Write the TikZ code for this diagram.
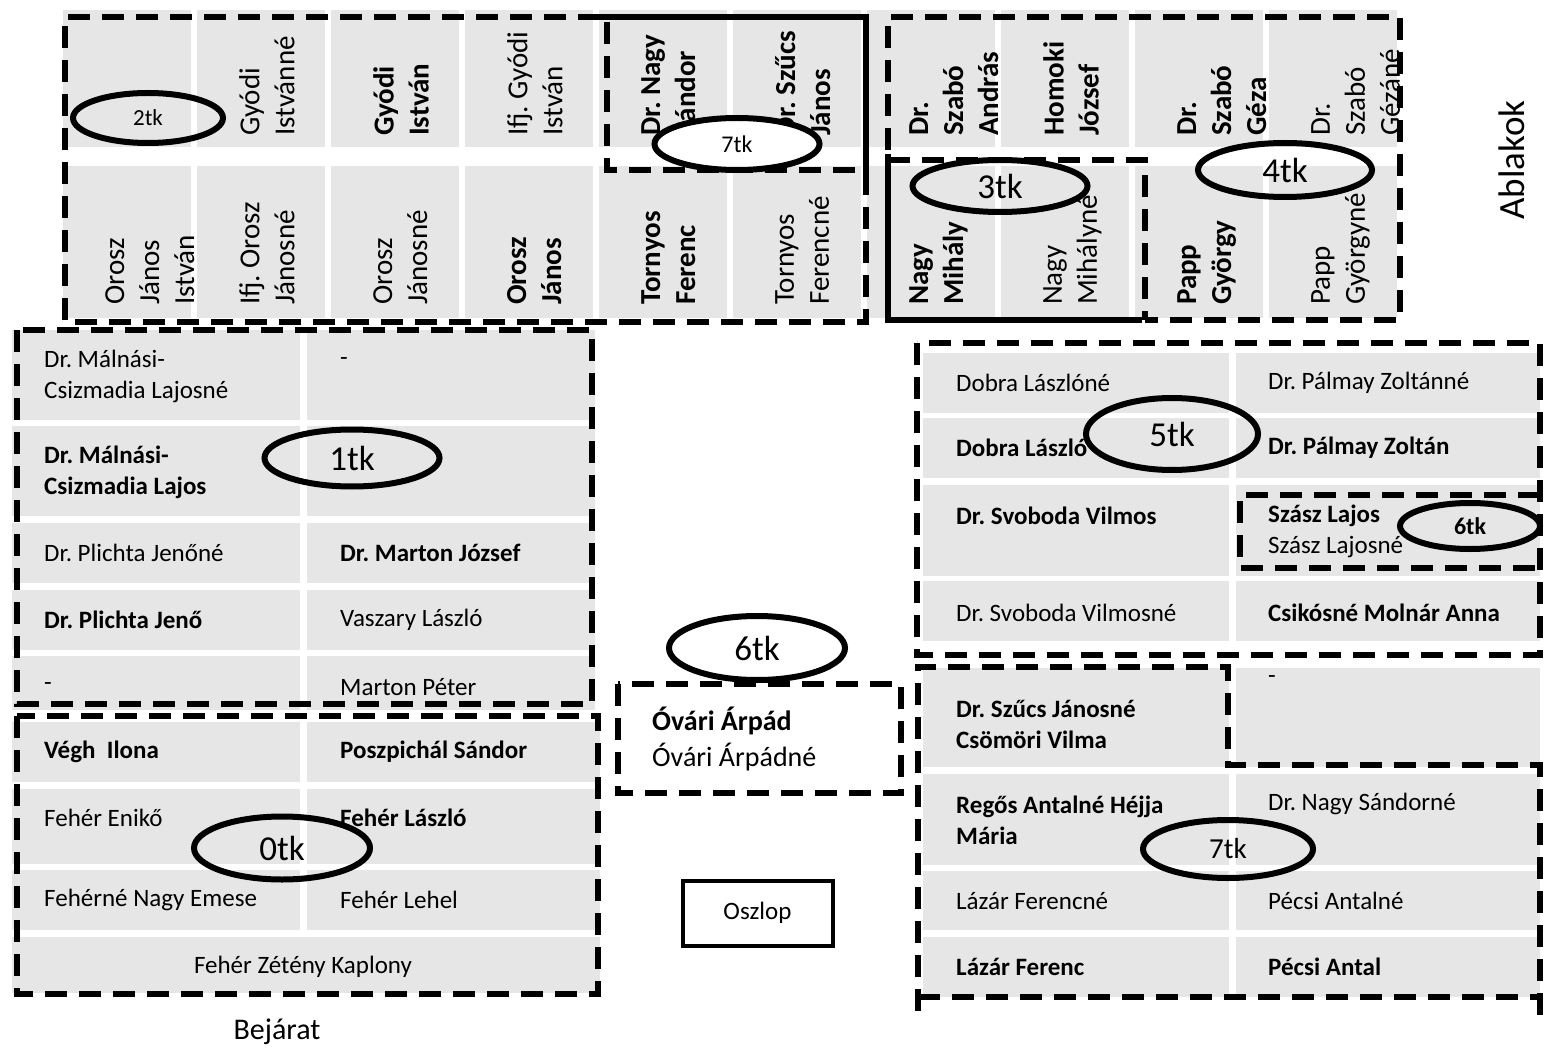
\documentclass[tikz,border=0pt]{standalone}
\usepackage{fontspec}
\setmainfont{Carlito}
\usetikzlibrary{shapes.geometric}
\definecolor{cellgray}{RGB}{230,230,230}
\frenchspacing
\begin{document}
\begin{tikzpicture}[x=1pt,y=-1pt,
  cellfill/.style={fill=cellgray},
  dsh/.style={line width=5.5pt, dash pattern=on 22pt off 12pt},
  sol/.style={line width=5.5pt},
  htxt/.style={anchor=west, inner sep=0pt, align=left, font=\fontsize{25}{31}\selectfont},
  hbold/.style={htxt, font=\fontsize{25}{31}\selectfont\bfseries},
  vtxt/.style={rotate=90, anchor=north west, inner sep=0pt, align=left, font=\fontsize{29}{35}\selectfont},
  vbold/.style={vtxt, font=\fontsize{29}{35}\selectfont\bfseries},
  oval/.style={ellipse, draw, line width=6pt, inner sep=0pt},
  bigl/.style={font=\fontsize{35}{40}\selectfont},
]
\useasboundingbox (0,0) rectangle (1544,1048);

% ---------- top section cells ----------
\foreach \i in {0,...,9} {
  \fill[cellfill] ({63+134*\i},10) rectangle ({191+134*\i},147);
  \fill[cellfill] ({63+134*\i},166) rectangle ({191+134*\i},318);
}
% top row texts
\node[vtxt]  (t1) at (239,136) {Gyódi\\Istvánné};
\node[vbold] (t2) at (373,136) {Gyódi\\István};
\node[vtxt]  (t3) at (507,136) {Ifj. Gyódi\\István};
\node[vbold] (t4) at (641,136) {Dr. Nagy\\Sándor};
\node[vbold] (t5) at (775,136) {Dr. Szűcs\\János};
\node[vbold] (t6) at (909,136) {Dr.\\Szabó\\András};
\node[vbold] (t7) at (1043,136) {Homoki\\József};
\node[vbold] (t8) at (1177,136) {Dr.\\Szabó\\Géza};
\node[vtxt]  (t9) at (1311,136) {Dr.\\Szabó\\Gézáné};
% bottom row texts
\node[vtxt]  (b0) at (105,305) {Orosz\\János\\István};
\node[vtxt]  (b1) at (239,305) {Ifj. Orosz\\Jánosné};
\node[vtxt]  (b2) at (373,305) {Orosz\\Jánosné};
\node[vbold] (b3) at (507,305) {Orosz\\János};
\node[vbold] (b4) at (641,305) {Tornyos\\Ferenc};
\node[vtxt]  (b5) at (775,305) {Tornyos\\Ferencné};
\node[vbold] (b6) at (909,305) {Nagy\\Mihály};
\node[vtxt]  (b7) at (1043,305) {Nagy\\Mihályné};
\node[vbold] (b8) at (1177,305) {Papp\\György};
\node[vtxt]  (b9) at (1311,305) {Papp\\Györgyné};

% top-left block borders
\draw[dsh] (600,17) -- (65,17) -- (65,322) -- (866,322) -- (866,182);
\draw[sol] (598,17) -- (866,17) -- (866,182);
\draw[dsh] (607,22) -- (607,170) -- (860,170);
% top-right block borders
\draw[dsh] (888,150) -- (888,17) -- (1400,17) -- (1400,320) -- (1145,320);
\draw[sol] (888,154) -- (888,320) -- (1142,320);
\draw[dsh] (888,160) -- (1145,160) -- (1145,320);

% ---------- 1tk block ----------
\fill[cellfill] (12,330) rectangle (300,420);
\fill[cellfill] (307,330) rectangle (595,420);
\fill[cellfill] (12,426) rectangle (300,516);
\fill[cellfill] (307,426) rectangle (595,516);
\fill[cellfill] (12,523) rectangle (300,583);
\fill[cellfill] (307,523) rectangle (595,583);
\fill[cellfill] (12,590) rectangle (300,650);
\fill[cellfill] (307,590) rectangle (595,650);
\fill[cellfill] (12,656) rectangle (300,710);
\fill[cellfill] (307,656) rectangle (595,710);
\node[htxt]  (m1a) at (44,376) {Dr. Málnási-\\Csizmadia Lajosné};
\node[htxt]  (m1b) at (340,362) {-};
\node[hbold] (m2a) at (44,472) {Dr. Málnási-\\Csizmadia Lajos};
\node[htxt]  (m3a) at (44,553) {Dr. Plichta Jenőné};
\node[hbold] (m3b) at (340,553) {Dr. Marton József};
\node[hbold] (m4a) at (44,620) {Dr. Plichta Jenő};
\node[htxt]  (m4b) at (340,620) {Vaszary László};
\node[htxt]  (m5a) at (44,687) {-};
\node[htxt]  (m5b) at (340,687) {Marton Péter};
\draw[dsh] (17,330) rectangle (592,704);

% ---------- 0tk block ----------
\fill[cellfill] (12,722) rectangle (300,782);
\fill[cellfill] (307,722) rectangle (600,782);
\fill[cellfill] (12,789) rectangle (300,864);
\fill[cellfill] (307,789) rectangle (600,864);
\fill[cellfill] (12,870) rectangle (300,930);
\fill[cellfill] (307,870) rectangle (600,930);
\fill[cellfill] (12,937) rectangle (600,993);
\node[hbold] (z1a) at (44,752) {Végh\ \ Ilona};
\node[hbold] (z1b) at (340,752) {Poszpichál Sándor};
\node[htxt]  (z2a) at (44,818) {Fehér Enikő};
\node[hbold] (z2b) at (340,818) {Fehér László};
\node[htxt]  (z3a) at (44,900) {Fehérné Nagy Emese};
\node[htxt]  (z3b) at (340,900) {Fehér Lehel};
\node[htxt, anchor=center] (z4) at (303,967) {Fehér Zétény Kaplony};
\draw[dsh] (17,716) rectangle (598,994);
\node[font=\fontsize{30}{34}\selectfont, inner sep=0pt] (bej) at (277,1032) {Bejárat};

% ---------- middle ----------
\draw[dsh] (618,684) rectangle (901,793);
\node[anchor=west, inner sep=0pt, align=left, font=\fontsize{28}{36}\selectfont] (ovari) at (652,739) {\textbf{Óvári Árpád}\\Óvári Árpádné};
\node[draw, line width=4pt, minimum width=150pt, minimum height=65pt, inner sep=0pt, font=\fontsize{25}{30}\selectfont] (oszlop) at (757.5,913) {Oszlop};

% ---------- 5tk block ----------
\fill[cellfill] (923,353) rectangle (1229,413);
\fill[cellfill] (1236,353) rectangle (1540,413);
\fill[cellfill] (923,418) rectangle (1229,478);
\fill[cellfill] (1236,418) rectangle (1540,478);
\fill[cellfill] (923,485) rectangle (1229,576);
\fill[cellfill] (1236,485) rectangle (1540,576);
\fill[cellfill] (923,581) rectangle (1229,641);
\fill[cellfill] (1236,581) rectangle (1540,641);
\node[htxt]  (f1a) at (956,383) {Dobra Lászlóné};
\node[htxt]  (f1b) at (1268,383) {Dr. Pálmay Zoltánné};
\node[hbold] (f2a) at (956,448) {Dobra László};
\node[hbold] (f2b) at (1268,448) {Dr. Pálmay Zoltán};
\node[hbold] (f3a) at (956,516) {Dr. Svoboda Vilmos};
\node[htxt]  (f3b) at (1268,531) {\textbf{Szász Lajos}\\Szász Lajosné};
\node[htxt]  (f4a) at (956,613) {Dr. Svoboda Vilmosné};
\node[hbold] (f4b) at (1268,613) {Csikósné Molnár Anna};
\draw[dsh] (917,343) rectangle (1540,655);
\draw[dsh] (1540,495) -- (1240,495) -- (1240,568) -- (1540,568);

% ---------- 7tk block ----------
\fill[cellfill] (923,668) rectangle (1229,767);
\fill[cellfill] (1236,668) rectangle (1540,767);
\fill[cellfill] (923,774) rectangle (1229,865);
\fill[cellfill] (1236,774) rectangle (1540,865);
\fill[cellfill] (923,871) rectangle (1229,930);
\fill[cellfill] (1236,871) rectangle (1540,930);
\fill[cellfill] (923,937) rectangle (1229,997);
\fill[cellfill] (1236,937) rectangle (1540,997);
\node[hbold] (s1a) at (956,724) {Dr. Szűcs Jánosné\\Csömöri Vilma};
\node[htxt]  (s1b) at (1268,680) {-};
\node[hbold] (s2a) at (956,820) {Regős Antalné Héjja\\Mária};
\node[htxt]  (s2b) at (1268,804) {Dr. Nagy Sándorné};
\node[htxt]  (s3a) at (956,901) {Lázár Ferencné};
\node[htxt]  (s3b) at (1268,901) {Pécsi Antalné};
\node[hbold] (s4a) at (956,967) {Lázár Ferenc};
\node[hbold] (s4b) at (1268,967) {Pécsi Antal};
\draw[dsh] (1540,1015) -- (1540,765) -- (1228,765) -- (1228,667) -- (918,667) -- (918,1015);
\draw[dsh] (918,997) -- (1540,997);

% ---------- ovals ----------
\node[oval, minimum width=150pt, minimum height=50pt, font=\fontsize{23}{26}\selectfont] (o2) at (148,118) {2tk};
\node[oval, fill=white, minimum width=165pt, minimum height=52pt, font=\fontsize{24}{26}\selectfont] (o7a) at (737,144) {7tk};
\node[oval, bigl, minimum width=175pt, minimum height=52pt] (o3) at (1000,186) {3tk};
\node[oval, bigl, minimum width=174pt, minimum height=54pt] (o4) at (1285,170) {4tk};
\node[oval, bigl, minimum width=175pt, minimum height=57pt] (o1) at (352,458) {1tk};
\node[oval, bigl, minimum width=172pt, minimum height=72pt] (o5) at (1172,434) {5tk};
\node[oval, minimum width=140pt, minimum height=46pt, font=\fontsize{24}{26}\selectfont\bfseries] (o6a) at (1470,526) {6tk};
\node[oval, bigl, minimum width=176pt, minimum height=64pt] (o6b) at (757,648) {6tk};
\node[oval, bigl, minimum width=176pt, minimum height=63pt] (o0) at (282,848) {0tk};
\node[oval, minimum width=170pt, minimum height=58pt, font=\fontsize{29}{32}\selectfont] (o7b) at (1228,849) {7tk};

% ---------- windows label ----------
\node[rotate=90, inner sep=0pt, font=\fontsize{37}{40}\selectfont] (ablak) at (1512,160) {Ablakok};
\end{tikzpicture}
\end{document}
